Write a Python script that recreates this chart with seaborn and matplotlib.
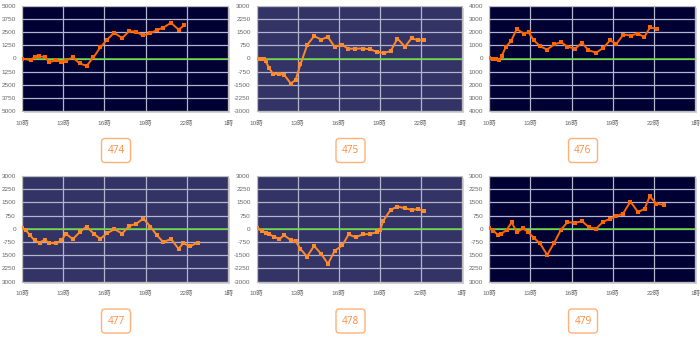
import numpy as np
import pandas as pd
import matplotlib
matplotlib.use("Agg")
import matplotlib.pyplot as plt
import seaborn as sns
from matplotlib.patches import FancyBboxPatch, Rectangle
from matplotlib.transforms import IdentityTransform

sns.set_style("white")
plt.rcParams['font.family'] = ['Liberation Sans', 'Noto Sans CJK JP']

# ---- data: hourly balance curves per machine ----
machines = ['474', '475', '476', '477', '478', '479']

hour_ticks = [10, 13, 16, 19, 22, 25]
hour_labels = ['10時', '13時', '16時', '19時', '22時', '1時']

hours_474 = [10.0, 10.63, 10.92, 11.23, 11.65, 12.0, 12.5, 12.86, 13.2, 13.7, 14.2, 14.7, 15.2,
             15.7, 16.2, 16.7, 17.3, 17.8, 18.3, 18.8, 19.35, 19.8, 20.3, 20.85, 21.4, 21.8]
diff_474 = [0, -150, 150, 200, 150, -350, -150, -350, -200, 100, -470, -700, 100,
            1050, 1800, 2450, 1950, 2600, 2550, 2200, 2400, 2700, 2950, 3400, 2750, 3150]

hours_475 = [10.0, 10.24, 10.5, 10.65, 10.9, 11.2, 11.65, 12.0, 12.5, 12.85, 13.2, 13.7, 14.2, 14.73,
             15.2, 15.7, 16.26, 16.7, 17.2, 17.75, 18.3, 18.8, 19.3, 19.8, 20.3, 20.85, 21.33, 21.77, 22.26]
diff_475 = [0, -40, -20, -150, -530, -900, -860, -930, -1430, -1220, -340, 780, 1280, 1085,
            1240, 670, 780, 550, 570, 570, 530, 380, 320, 420, 1140, 670, 1160, 1050, 1050]

hours_476 = [10.0, 10.24, 10.5, 10.7, 10.9, 11.2, 11.6, 12.0, 12.5, 12.86, 13.25, 13.7, 14.2, 14.75,
             15.22, 15.7, 16.27, 16.75, 17.23, 17.8, 18.3, 18.8, 19.27, 19.78, 20.3, 20.85, 21.3, 21.72, 22.2]
diff_476 = [50, 0, 0, -150, 175, 875, 1350, 2250, 1900, 2000, 1375, 950, 675, 1075,
            1250, 900, 750, 1200, 625, 450, 800, 1375, 1125, 1825, 1750, 1900, 1625, 2375, 2250]

hours_477 = [10.0, 10.27, 10.56, 10.92, 11.28, 11.65, 12.0, 12.5, 12.86, 13.2, 13.7, 14.2, 14.7, 15.23,
             15.7, 16.2, 16.73, 17.29, 17.82, 18.3, 18.84, 19.35, 19.8, 20.29, 20.85, 21.4, 21.74, 22.23, 22.78]
diff_477 = [40, -60, -340, -660, -775, -625, -810, -810, -660, -280, -585, -190, 130, -280,
            -570, -245, -20, -265, 170, 280, 585, 130, -340, -755, -570, -1135, -810, -1000, -775]

hours_478 = [10.0, 10.36, 10.65, 10.92, 11.29, 11.65, 12.0, 12.5, 12.84, 13.2, 13.69, 14.2, 14.73, 15.22,
             15.7, 16.26, 16.72, 17.23, 17.77, 18.3, 18.8, 19.03, 19.27, 19.8, 20.3, 20.85, 21.33, 21.77, 22.26]
diff_478 = [40, -110, -230, -320, -435, -585, -360, -640, -680, -1150, -1570, -965, -1435, -1985,
            -1250, -945, -320, -470, -320, -285, -190, -60, 470, 1080, 1265, 1170, 1080, 1115, 1040]

hours_479 = [10.0, 10.3, 10.6, 10.85, 11.26, 11.63, 12.0, 12.48, 12.84, 13.25, 13.7, 14.22, 14.73, 15.22,
             15.7, 16.24, 16.77, 17.26, 17.77, 18.3, 18.79, 19.27, 19.76, 20.29, 20.85, 21.33, 21.7, 22.18, 22.74]
diff_479 = [40, -95, -340, -285, -75, 380, -190, 20, -190, -510, -830, -1475, -795, -55,
            380, 340, 435, 95, 0, 400, 565, 720, 870, 1550, 945, 1150, 1850, 1435, 1360]

# value axis: tick positions and the labels printed beside them (bottom to top)
yticks_474 = [-5000, -3750, -2500, -1250, 0, 1250, 2500, 3750, 5000]
ylabels_474 = ['5000', '3750', '2500', '1250', '0', '1250', '2500', '3750', '5000']
yticks_475 = [-3000, -2250, -1500, -750, 0, 750, 1500, 2250, 3000]
ylabels_475 = ['-3000', '-2250', '-1500', '-750', '0', '750', '1500', '2250', '3000']
yticks_476 = [-4000, -3000, -2000, -1000, 0, 1000, 2000, 3000, 4000]
ylabels_476 = ['4000', '3000', '2000', '1000', '0', '1000', '2000', '3000', '4000']
yticks_477 = [-3000, -2250, -1500, -750, 0, 750, 1500, 2250, 3000]
ylabels_477 = ['3000', '2250', '1500', '-750', '0', '750', '1500', '2250', '3000']
yticks_478 = [-3000, -2250, -1500, -750, 0, 750, 1500, 2250, 3000]
ylabels_478 = ['-3000', '-2250', '-1500', '-750', '0', '750', '1500', '2250', '3000']
yticks_479 = [-3000, -2250, -1500, -750, 0, 750, 1500, 2250, 3000]
ylabels_479 = ['3000', '2250', '1500', '-750', '0', '750', '1500', '2250', '3000']

series = [(hours_474, diff_474), (hours_475, diff_475), (hours_476, diff_476),
          (hours_477, diff_477), (hours_478, diff_478), (hours_479, diff_479)]
y_axes = [(yticks_474, ylabels_474), (yticks_475, ylabels_475), (yticks_476, ylabels_476),
          (yticks_477, ylabels_477), (yticks_478, ylabels_478), (yticks_479, ylabels_479)]

# ---- layout (pixels) ----
W, H = 700, 341
fig = plt.figure(figsize=(W / 100, H / 100), dpi=100)
fig.patch.set_facecolor('white')

col_left = [22, 256.7, 489.3]
col_right = [228, 461.7, 695]
row_top = [6, 176]
row_bottom = [111, 281.7]
badge_cx = [116, 350.5, 583]
badge_cy = [150.5, 321]

dark_bg = '#000033'
mid_bg = '#333366'
styles = [(dark_bg, '#ff6600'), (mid_bg, '#ff8a2a'), (dark_bg, '#ff6600'),
          (mid_bg, '#ff8a2a'), (mid_bg, '#ff8a2a'), (dark_bg, '#ff6600')]

for i, name in enumerate(machines):
    r, c = divmod(i, 3)
    l, rt = col_left[c], col_right[c]
    t, b = row_top[r], row_bottom[r]

    # soft drop shadow to the right / bottom of the plot area
    fig.add_artist(Rectangle((l + 2, H - b - 2), rt - l, b - t, transform=IdentityTransform(),
                             facecolor='#d4d4d4', edgecolor='none', zorder=-5))

    ax = fig.add_axes([l / W, 1 - b / H, (rt - l) / W, (b - t) / H])
    bg, lc = styles[i]
    ax.set_facecolor(bg)

    hrs, vals = series[i]
    df = pd.DataFrame({'hour': hrs, 'diff': vals})
    sns.lineplot(data=df, x='hour', y='diff', ax=ax, color=lc, linewidth=1.4,
                 marker='s', markersize=2.2, markeredgewidth=0, markerfacecolor=lc, zorder=4)
    ax.axhline(0, color='#66dd33', linewidth=1.1, zorder=3)

    yt, yl = y_axes[i]
    ax.set_ylim(yt[0], yt[-1])
    ax.set_yticks(yt)
    ax.set_yticklabels(yl)
    ax.set_xlim(hour_ticks[0], hour_ticks[-1])
    ax.set_xticks(hour_ticks)
    ax.set_xticklabels(hour_labels)
    ax.set_xlabel('')
    ax.set_ylabel('')

    ax.grid(True, color='#b4b4cc', linewidth=0.9)
    ax.set_axisbelow(True)
    for s in ax.spines.values():
        s.set_color('#bdbdbd')
        s.set_linewidth(0.8)
    ax.tick_params(axis='both', length=1.8, width=0.6, color='#a8a8a8',
                   labelsize=4.6, labelcolor='#666666')
    ax.tick_params(axis='y', pad=2.6)
    ax.tick_params(axis='x', pad=4.4)

    # machine number badge
    cx, cy = badge_cx[c], badge_cy[r]
    bw, bh = 29, 24
    fig.add_artist(FancyBboxPatch((cx - bw / 2, H - cy - bh / 2), bw, bh,
                                  boxstyle="round,pad=0,rounding_size=3.5",
                                  transform=IdentityTransform(), facecolor='white',
                                  edgecolor='#ffb078', linewidth=1.0))
    fig.text(cx / W, 1 - cy / H, name, ha='center', va='center',
             color='#ff8a3a', fontsize=7.2, family=['Open Sans', 'DejaVu Sans'])

fig.savefig('out.png', dpi=100, facecolor='white')
